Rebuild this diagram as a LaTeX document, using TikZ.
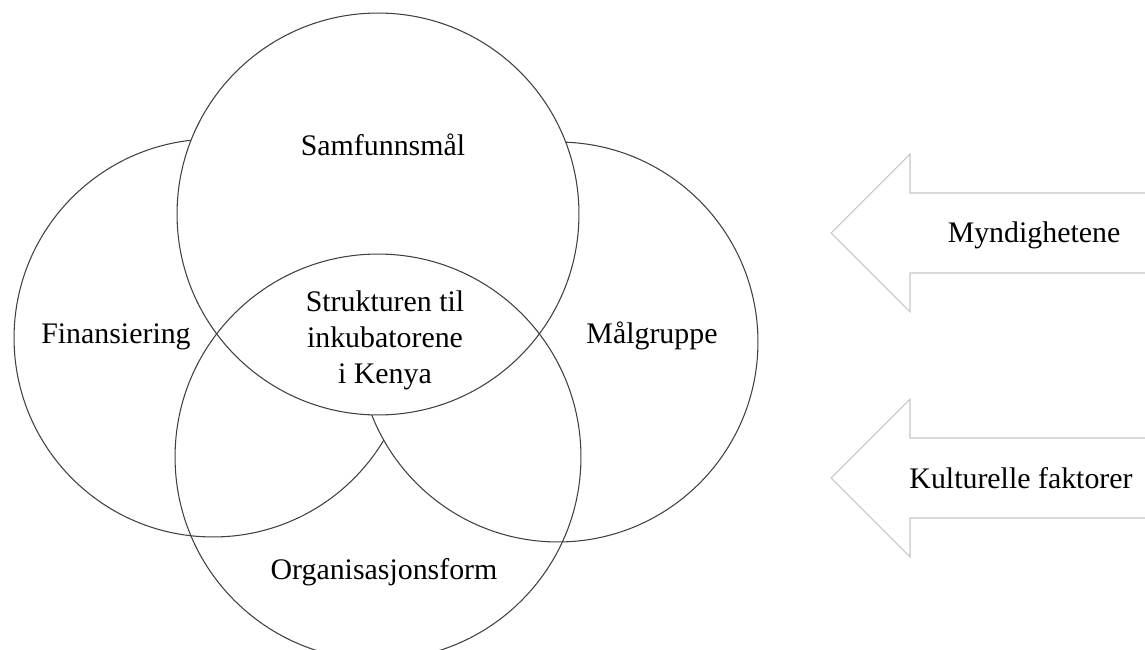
\documentclass[tikz,border=0pt]{standalone}
\usepackage{fontspec}
\setmainfont{Liberation Serif}
\usepackage{tikz}
\usetikzlibrary{calc}
\def\hollowarrow(#1,#2){\draw[gray!45,line width=0.6pt] (1146,{#2-40}) -- ({#1+79},{#2-40}) -- ({#1+79},{#2-79}) -- (#1,#2) -- ({#1+79},{#2+79}) -- ({#1+79},{#2+40}) -- (1146,{#2+40})}

\begin{document}
\begin{tikzpicture}[x=0.02cm,y=-0.02cm,font=\fontsize{17}{20.5}\selectfont,
	circ/.style={draw=black!75,line width=0.6pt}]
	\useasboundingbox (0,0) rectangle (1145,649);
	\clip (0,0) rectangle (1145,649);
	
	%WHITE CIRCLES, LATER ONES COVER EARLIER ONES
	\foreach \cx/\cy/\r in {213/338/3.98,558/342/4,378/214/4.02}{
		\filldraw[circ,fill=white] (\cx,\cy) circle (\r cm);
	}
	%BOTTOM CIRCLE, OPEN
	\draw[circ] (378,457) circle (4.06cm);
	
	\node (samf) at (383,145) {Samfunnsmål};
	\node[align=center] (strukt) at (385,340) {Strukturen til\\inkubatorene\\i Kenya};
	\node (fin) at (116,337) {Finansiering};
	\node (malg) at (652,336) {Målgruppe};
	\node (org) at (384,572) {Organisasjonsform};
	
	%ARROWS FROM THE RIGHT
	\hollowarrow(831,233);
	\hollowarrow(831,478);
	\node (mynd) at (1034,235) {Myndighetene};
	\node (kult) at (1021,478) {Kulturelle faktorer};
\end{tikzpicture}
\end{document}
